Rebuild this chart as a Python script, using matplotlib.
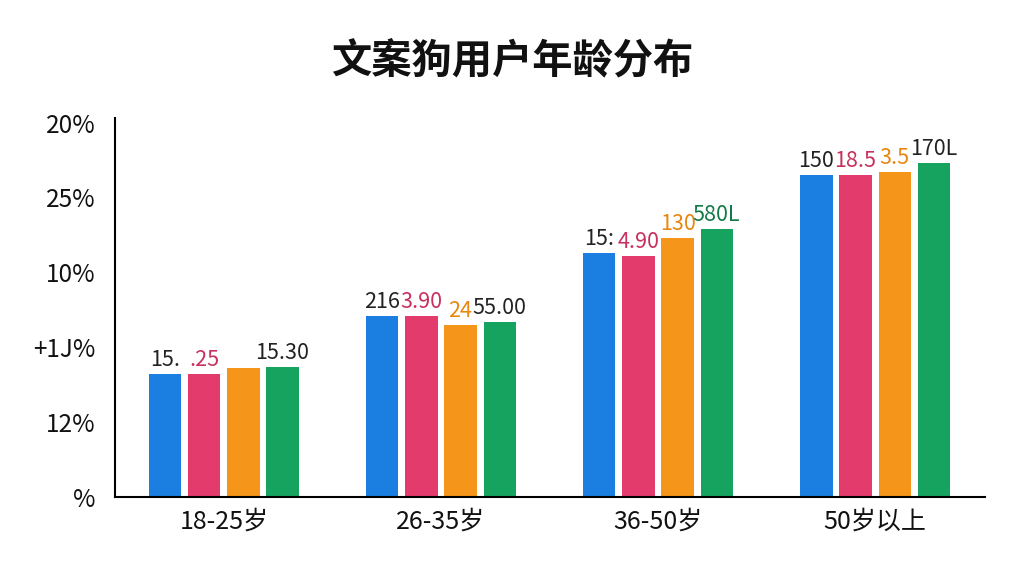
"""
文案狗用户年龄分布 - grouped bar chart.
"""

import numpy as np
import matplotlib.pyplot as plt

plt.rcParams['font.family'] = ['Noto Sans CJK SC', 'DejaVu Sans']

# data
age_groups = ['18-25岁', '26-35岁', '36-50岁', '50岁以上']
series_blue = [8.2, 12.1, 16.3, 21.5]
series_pink = [8.2, 12.1, 16.1, 21.5]
series_orange = [8.6, 11.5, 17.3, 21.7]
series_green = [8.7, 11.7, 17.9, 22.3]

# y tick values and labels as printed in the source
ytick_values = [0, 5, 10, 15, 20, 25]
ytick_labels = ['%', '12%', '+1J%', '10%', '25%', '20%']

# value labels drawn above bars
labels_blue = ['15.', '216', '15:', '150']
labels_pink = ['.25', '3.90', '4.90', '18.5']
labels_orange = ['', '24', '130', '3.5']
labels_green = ['15.30', '55.00', '580L', '170L']

colors = ['#1a7fe0', '#e43b6d', '#f5961a', '#16a35f']
label_colors = [
    ['#222222', '#222222', '#222222', '#222222'],
    ['#c8305e', '#c8305e', '#c8305e', '#c8305e'],
    ['#e8870f', '#e8870f', '#e8870f', '#e8870f'],
    ['#222222', '#222222', '#137a47', '#222222'],
]

fig = plt.figure(figsize=(10.24, 5.76), dpi=100)
ax = fig.add_axes([0.1123, 0.137, 0.8497, 0.658])

x = np.arange(len(age_groups))
step = 0.18
width = 0.148
all_series = [series_blue, series_pink, series_orange, series_green]
all_labels = [labels_blue, labels_pink, labels_orange, labels_green]

for i, (vals, labs) in enumerate(zip(all_series, all_labels)):
    pos = x + (i - 1.5) * step
    bars = ax.bar(pos, vals, width=width, color=colors[i], zorder=2)
    for j, (b, t) in enumerate(zip(bars, labs)):
        if not t:
            continue
        ax.annotate(t, (b.get_x() + b.get_width() / 2, b.get_height()),
                    xytext=(0, 2), textcoords='offset points',
                    ha='center', va='bottom', fontsize=15.5,
                    color=label_colors[i][j])

ax.set_xlim(-0.502, 3.507)
ax.set_ylim(0, 25.3)
ax.set_xticks(x)
ax.set_xticklabels(age_groups, fontsize=18, color='#111111')
ax.set_yticks(ytick_values)
ax.set_yticklabels(ytick_labels, fontsize=17.5, color='#111111')
ax.tick_params(axis='both', length=0)
ax.tick_params(axis='x', pad=8)
ax.tick_params(axis='y', pad=14)

for s in ['top', 'right']:
    ax.spines[s].set_visible(False)
ax.spines['left'].set_linewidth(1.5)
ax.spines['bottom'].set_linewidth(1.5)

fig.text(0.5, 0.895, '文案狗用户年龄分布', ha='center', va='center',
         fontsize=29, fontweight='bold', color='#111111')

plt.savefig('out.png', dpi=100)
plt.close()
